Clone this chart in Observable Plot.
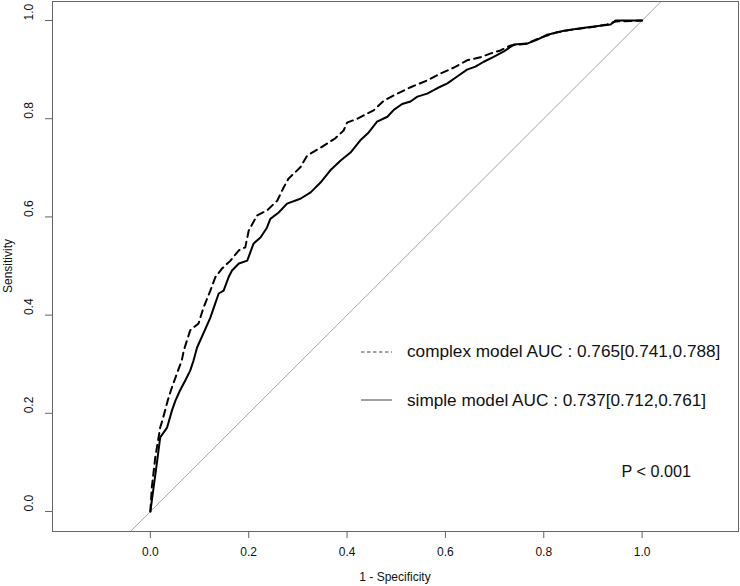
<!DOCTYPE html>
<html><head><meta charset="utf-8">
<script src="https://cdn.jsdelivr.net/npm/d3@7"></script>
<script src="https://cdn.jsdelivr.net/npm/@observablehq/plot@0.6"></script>
<style>
body{margin:0;background:#fff;font-family:"Liberation Sans",Arial,sans-serif;}
#wrap{position:relative;width:740px;height:586px;overflow:hidden;}
.t{position:absolute;white-space:nowrap;color:#111;line-height:1;}
</style></head><body><div id="wrap"></div>
<script>
// ROC curve data (1 - specificity, sensitivity)
const complexX = [0,0.003,0.010,0.020,0.026,0.037,0.044,0.054,0.064,0.068,0.081,0.098,0.108,0.122,0.132,0.146,0.163,0.180,0.193,0.200,0.217,0.237,0.258,0.271,0.281,0.305,0.319,0.346,0.376,0.393,0.400,0.421,0.434,0.454,0.475,0.502,0.529,0.563,0.590,0.617,0.644,0.671,0.692,0.712,0.732,0.766,0.793,0.827,0.861,0.895,0.929,0.946,1];
const complexY = [0,0.049,0.110,0.171,0.191,0.232,0.253,0.281,0.308,0.328,0.369,0.383,0.415,0.450,0.477,0.495,0.511,0.532,0.538,0.572,0.603,0.613,0.633,0.660,0.678,0.701,0.725,0.741,0.760,0.776,0.792,0.800,0.807,0.817,0.837,0.851,0.864,0.878,0.892,0.904,0.919,0.925,0.933,0.939,0.949,0.953,0.965,0.976,0.982,0.986,0.992,0.998,1];
const simpleX = [0,0.005,0.014,0.020,0.034,0.044,0.051,0.060,0.071,0.081,0.088,0.095,0.108,0.122,0.132,0.139,0.149,0.159,0.166,0.180,0.197,0.210,0.224,0.237,0.244,0.261,0.278,0.305,0.326,0.346,0.366,0.387,0.407,0.427,0.444,0.461,0.482,0.495,0.512,0.529,0.543,0.563,0.583,0.604,0.624,0.644,0.661,0.678,0.698,0.719,0.739,0.766,0.787,0.807,0.841,0.875,0.902,0.936,0.946,1];
const simpleY = [0,0.037,0.104,0.151,0.171,0.206,0.226,0.246,0.267,0.287,0.308,0.334,0.363,0.395,0.424,0.444,0.450,0.477,0.491,0.505,0.511,0.546,0.558,0.578,0.596,0.609,0.627,0.637,0.650,0.670,0.695,0.715,0.731,0.756,0.772,0.794,0.804,0.818,0.830,0.835,0.845,0.851,0.862,0.872,0.886,0.900,0.906,0.916,0.926,0.937,0.951,0.953,0.961,0.971,0.979,0.984,0.988,0.992,1,1];
const xTicks = [0, 0.2, 0.4, 0.6, 0.8, 1.0];
const yTicks = [0, 0.2, 0.4, 0.6, 0.8, 1.0];
const xDomain = [-0.199, 1.196];
const yDomain = [-0.0407, 1.0387];
const legendLabels = ["complex model AUC : 0.765[0.741,0.788]", "simple model AUC : 0.737[0.712,0.761]"];
const pLabel = "P < 0.001";
const xTitle = "1 - Specificity";
const yTitle = "Sensitivity";

const complex = complexX.map((x, i) => ({x, y: complexY[i]}));
const simple = simpleX.map((x, i) => ({x, y: simpleY[i]}));
const fmt = d3.format(".1f");

const chart = Plot.plot({
  width: 740, height: 586,
  marginLeft: 52, marginRight: 2, marginTop: 1, marginBottom: 55,
  style: {fontFamily: "Liberation Sans, Arial, sans-serif", fontSize: "12px", color: "#111", background: "#fff"},
  x: {domain: xDomain},
  y: {domain: yDomain},
  marks: [
    Plot.line(xDomain, {x: d => d, y: d => d, stroke: "#a8a8a8", strokeWidth: 1, clip: true}),
    Plot.line(simple, {x: "x", y: "y", stroke: "#000", strokeWidth: 2}),
    Plot.line(complex, {x: "x", y: "y", stroke: "#000", strokeWidth: 2, strokeDasharray: "7,5"}),
    Plot.frame({stroke: "#666"}),
    Plot.axisX(xTicks, {tickSize: 7, tickPadding: 9, tickFormat: fmt, label: null, stroke: "#666"}),
    Plot.axisY(yTicks, {tickSize: 7, tickFormat: () => "", label: null, stroke: "#666"}),
    Plot.text(yTicks, {y: d => d, frameAnchor: "left", dx: -23, rotate: -90, text: d => fmt(d), fill: "#111", fontSize: 12})
  ]
});
const wrap = document.getElementById("wrap");
wrap.appendChild(chart);

function addText(txt, left, top, size, extra) {
  const d = document.createElement("div");
  d.className = "t";
  d.textContent = txt;
  d.style.left = left + "px";
  d.style.top = top + "px";
  d.style.fontSize = size + "px";
  if (extra) Object.assign(d.style, extra);
  wrap.appendChild(d);
  return d;
}
// axis titles
addText(xTitle, 395, 571, 12, {transform: "translateX(-50%)"});
addText(yTitle, 8, 266, 12, {transform: "translate(-50%,-50%) rotate(-90deg)"});
// legend
const ns = "http://www.w3.org/2000/svg";
function sample(top, dash) {
  const s = document.createElementNS(ns, "svg");
  s.setAttribute("width", 32); s.setAttribute("height", 4);
  s.style.position = "absolute"; s.style.left = "361px"; s.style.top = (top - 2) + "px";
  const l = document.createElementNS(ns, "line");
  l.setAttribute("x1", 0); l.setAttribute("x2", 31); l.setAttribute("y1", 2); l.setAttribute("y2", 2);
  l.setAttribute("stroke", "#444"); l.setAttribute("stroke-width", 1);
  if (dash) l.setAttribute("stroke-dasharray", dash);
  s.appendChild(l);
  wrap.appendChild(s);
}
sample(352, "3.5,2.5");
sample(400, null);
addText(legendLabels[0], 407, 342.5, 17.2);
addText(legendLabels[1], 407, 391.5, 17.2);
addText(pLabel, 621.5, 463, 16.2);
</script></body></html>
